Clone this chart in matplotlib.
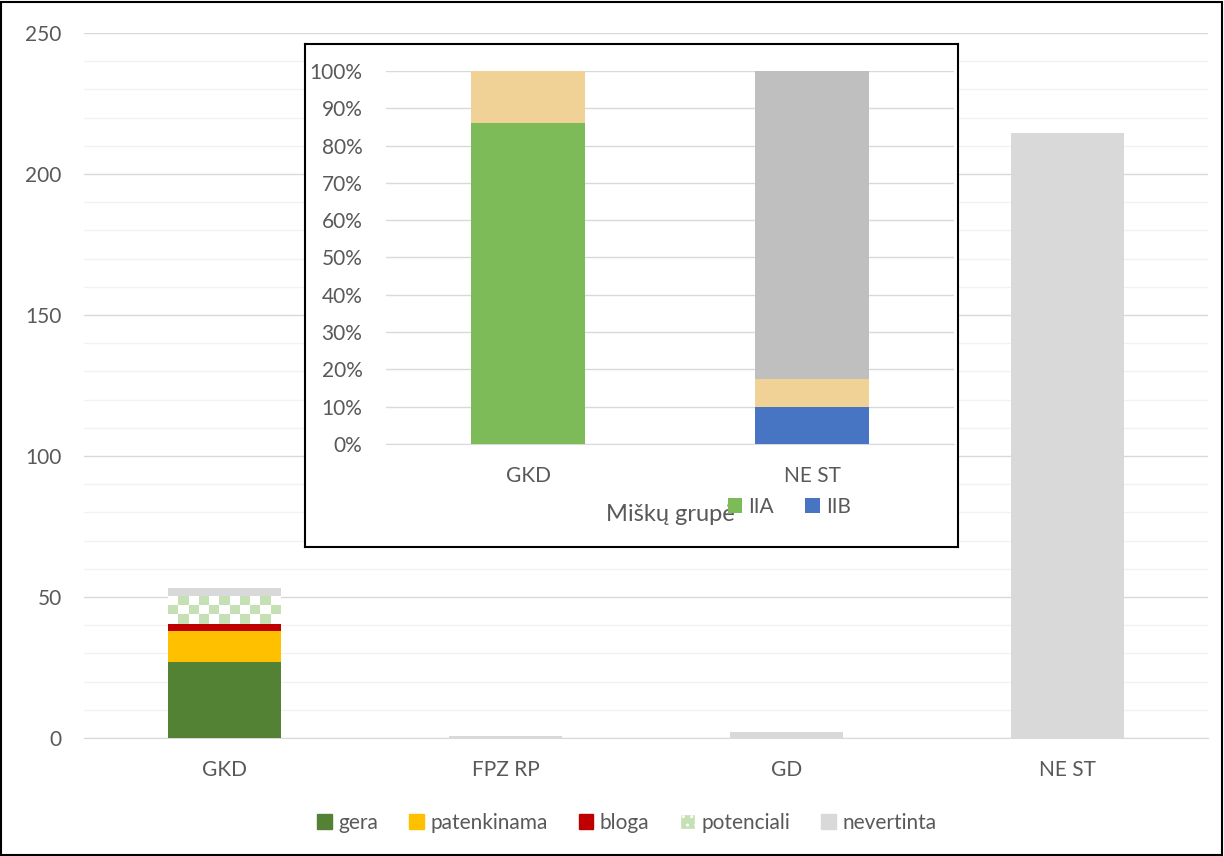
import numpy as np
import matplotlib.pyplot as plt
from matplotlib.colors import ListedColormap
from matplotlib.patches import Patch, Rectangle
from matplotlib.ticker import MultipleLocator, PercentFormatter

plt.rcParams['font.family'] = ['Lato', 'DejaVu Sans']

# main chart data
categories = ['GKD', 'FPZ RP', 'GD', 'NE ST']
gera = [27, 0, 0, 0]
patenkinama = [11, 0, 0, 0]
bloga = [2.5, 0, 0, 0]
potenciali = [10, 0, 0, 0]
nevertinta = [2.7, 0.7, 2.2, 214.5]

# inset data (percent)
inset_cats = ['GKD', 'NE ST']
iia = [86, 0]
iib = [0, 10]
inset_tan = [14, 7.5]
inset_gray = [0, 82.5]

txt = '#595959'
fs = 15
fig = plt.figure(figsize=(12.24, 8.56), dpi=100)

ax = fig.add_axes([0.0686, 0.1379, 0.9184, 0.8235])
x = np.arange(len(categories))
w = 0.4
bottom = np.zeros(len(categories))
series = [('gera', gera, '#548235'), ('patenkinama', patenkinama, '#FFC000'),
          ('bloga', bloga, '#C00000'), ('potenciali', potenciali, 'white'),
          ('nevertinta', nevertinta, '#D9D9D9')]
bars = {}
for name, vals, col in series:
    bars[name] = ax.bar(x, vals, w, bottom=bottom, color=col, zorder=3)
    bottom += np.array(vals)

# checkerboard fill for "potenciali"
checker = ListedColormap(['white', '#C5E0B4'])
for p in bars['potenciali']:
    if p.get_height() <= 0:
        continue
    x0, y0 = p.get_x(), p.get_y()
    x1, y1 = x0 + p.get_width(), y0 + p.get_height()
    pat = np.indices((3, 11)).sum(axis=0) % 2
    im = ax.imshow(pat, cmap=checker, extent=(x0, x1, y0, y1), aspect='auto',
                   interpolation='nearest', origin='lower', zorder=4)
    im.set_clip_path(p)

ax.set_xlim(-0.5, len(categories) - 0.5)
ax.set_ylim(0, 250)
ax.set_xticks(x)
ax.set_xticklabels(categories)
ax.yaxis.set_major_locator(MultipleLocator(50))
ax.yaxis.set_minor_locator(MultipleLocator(10))
ax.grid(axis='y', which='major', color='#D9D9D9', lw=1, zorder=0)
ax.grid(axis='y', which='minor', color='#F2F2F2', lw=1, zorder=0)
for s in ['top', 'right', 'left']:
    ax.spines[s].set_visible(False)
ax.spines['bottom'].set_color('#D9D9D9')
ax.tick_params(axis='both', which='both', length=0, labelsize=fs, colors=txt)
ax.tick_params(axis='x', pad=16)
ax.tick_params(axis='y', pad=16)

handles = [Patch(color='#548235'), Patch(color='#FFC000'), Patch(color='#C00000'),
           Patch(facecolor='#C5E0B4', edgecolor='white', hatch='..'),
           Patch(color='#D9D9D9')]
fig.legend(handles, [s[0] for s in series], loc='center', bbox_to_anchor=(0.512, 0.039),
           ncol=5, frameon=False, fontsize=fs, labelcolor=txt, handlelength=0.7,
           handleheight=0.7, handletextpad=0.3, columnspacing=1.5)

# outer border
fig.add_artist(Rectangle((0.001, 0.001), 0.997, 0.997, transform=fig.transFigure,
                         fill=False, edgecolor='black', lw=1.5))

# inset frame
box = fig.add_axes([0.249, 0.361, 0.5337, 0.5876])
box.set_xticks([])
box.set_yticks([])
for s in box.spines.values():
    s.set_color('black')
    s.set_linewidth(1.5)

ins = fig.add_axes([0.3154, 0.4813, 0.464, 0.4358])
ins.patch.set_alpha(0)
xi = np.arange(len(inset_cats))
b = np.zeros(len(inset_cats))
for name, vals, col in [('IIA', iia, '#7DBB59'), ('IIB', iib, '#4775C4'),
                        ('_t', inset_tan, '#F0D296'), ('_g', inset_gray, '#BFBFBF')]:
    ins.bar(xi, vals, 0.4, bottom=b, color=col, label=name, zorder=3)
    b += np.array(vals)
ins.set_xlim(-0.5, len(inset_cats) - 0.5)
ins.set_ylim(0, 100)
ins.set_xticks(xi)
ins.set_xticklabels(inset_cats)
ins.yaxis.set_major_locator(MultipleLocator(10))
ins.yaxis.set_major_formatter(PercentFormatter(decimals=0))
ins.grid(axis='y', color='#D9D9D9', lw=1, zorder=0)
for s in ['top', 'right', 'left']:
    ins.spines[s].set_visible(False)
ins.spines['bottom'].set_color('#D9D9D9')
ins.tick_params(axis='both', length=0, labelsize=fs, colors=txt)
ins.tick_params(axis='x', pad=16)
ins.tick_params(axis='y', pad=17)
ins.set_xlabel('Miškų grupė', fontsize=17, color=txt)
ins.xaxis.set_label_coords(0.5, -0.16)
ins.legend(loc='center', bbox_to_anchor=(0.71, -0.169), ncol=2, frameon=False,
           fontsize=fs, labelcolor=txt, handlelength=0.7, handleheight=0.7,
           handletextpad=0.3, columnspacing=1.5)

fig.savefig('out.png', dpi=100)
